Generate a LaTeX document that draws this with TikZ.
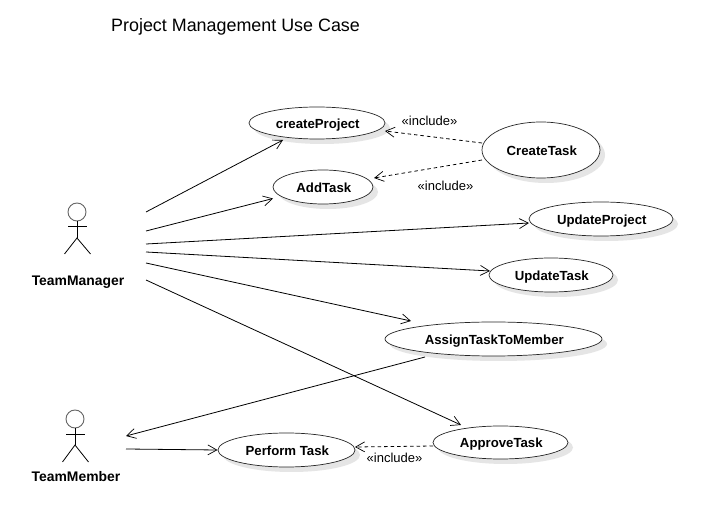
\documentclass[tikz,border=0pt]{standalone}
\usepackage{fontspec}
\setmainfont{Liberation Sans}
\usetikzlibrary{arrows.meta,calc,shapes.geometric,shadows}
\tikzset{
  usecase/.style n args={2}{ellipse,draw=black!85,fill=white,line width=0.7pt,minimum width=#1,minimum height=#2,inner sep=0pt,
    text height=11pt,text depth=0pt,execute at begin node={\hspace*{1.6pt}},
    font=\fontsize{13.2}{15}\selectfont\bfseries,
    general shadow={fill=black!10,shadow xshift=5pt,shadow yshift=-5pt,draw=none}},
  assoc/.style={draw=black,line width=0.8pt,-{Straight Barb[length=9pt,width=10pt,line width=0.7pt]}},
  incl/.style={assoc,dash pattern=on 3.5pt off 3pt},
  stereo/.style={font=\fontsize{13}{15}\selectfont,inner sep=0pt},
  actorname/.style={font=\fontsize{13.9}{16}\selectfont\bfseries,inner sep=0pt},
  limb/.style={draw=black,line width=0.8pt},
  headring/.style={circle,draw=black!60,line width=0.9pt,minimum size=18pt,inner sep=0pt,fill=white},
  titletext/.style={font=\fontsize{17.9}{21}\selectfont,anchor=west,inner sep=0pt}
}
\begin{document}
\begin{tikzpicture}[x=1pt,y=-1pt]
\useasboundingbox[fill=white] (0,0) rectangle (713,529);
\node[titletext] (title) at (111,26.5) {Project Management Use Case};

% use cases
\node[usecase={136pt}{32pt}] (createProject) at (317,123) {createProject};
\node[usecase={100pt}{34pt}] (AddTask) at (323,187) {AddTask};
\node[usecase={118pt}{56pt}] (CreateTask) at (541,150) {CreateTask};
\node[usecase={144pt}{34pt}] (UpdateProject) at (601,219) {UpdateProject};
\node[usecase={124pt}{34pt}] (UpdateTask) at (551,275) {UpdateTask};
\node[usecase={217pt}{34pt}] (Assign) at (493.5,339) {AssignTaskToMember};
\node[usecase={137pt}{34pt}] (Perform) at (286.5,450) {Perform Task};
\node[usecase={135pt}{33pt}] (Approve) at (500.5,442.5) {ApproveTask};

% actors
\node[headring] (mgrHead) at (77,212) {};
\coordinate (mgrHip) at (77,238);
\draw[limb] (mgrHead.south) -- (mgrHip);
\draw[limb] (68,226) -- (87,226);
\draw[limb] (64.5,254) -- (mgrHip) -- (90.5,254);
\node[actorname] (mgrName) at (78,282) {TeamManager};

\node[headring] (memHead) at (75,419) {};
\coordinate (memHip) at (75,445);
\draw[limb] (memHead.south) -- (memHip);
\draw[limb] (66,434) -- (85,434);
\draw[limb] (62.5,462) -- (memHip) -- (88.5,462);
\node[actorname] (memName) at (76,477) {TeamMember};

% free ends at the actors
\coordinate (m1) at (146,212);
\coordinate (m2) at (146,231);
\coordinate (m3) at (146,244);
\coordinate (m4) at (146,252);
\coordinate (m5) at (146,263);
\coordinate (m6) at (146,280);
\coordinate (t1) at (126,436);
\coordinate (t2) at (126,449);

% associations
\draw[assoc] (m1) -- ($(createProject)+(-34,17)$);
\draw[assoc] (m2) -- ($(AddTask)+(-50,11.5)$);
\draw[assoc] (m3) -- ($(UpdateProject)+(-72,4)$);
\draw[assoc] (m4) -- ($(UpdateTask)+(-61,-4)$);
\draw[assoc] (m5) -- ($(Assign)+(-82.5,-18)$);
\draw[assoc] (m6) -- ($(Approve)+(-39.5,-17.5)$);
\draw[assoc] ($(Assign)+(-68.5,18)$) -- (t1);
\draw[assoc] (t2) -- ($(Perform)+(-69,0)$);

% includes
\draw[incl] ($(CreateTask)+(-59,-7)$) -- ($(createProject)+(68,8)$);
\draw[incl] ($(CreateTask)+(-59,10)$) -- ($(AddTask)+(51,-9)$);
\draw[incl] ($(Approve)+(-67.5,3.5)$) -- ($(Perform)+(68.5,-3)$);

\node[stereo] (inc1) at (429.5,120.5) {«include»};
\node[stereo] (inc2) at (445.5,185.5) {«include»};
\node[stereo] (inc3) at (394.5,457.5) {«include»};
\end{tikzpicture}
\end{document}
